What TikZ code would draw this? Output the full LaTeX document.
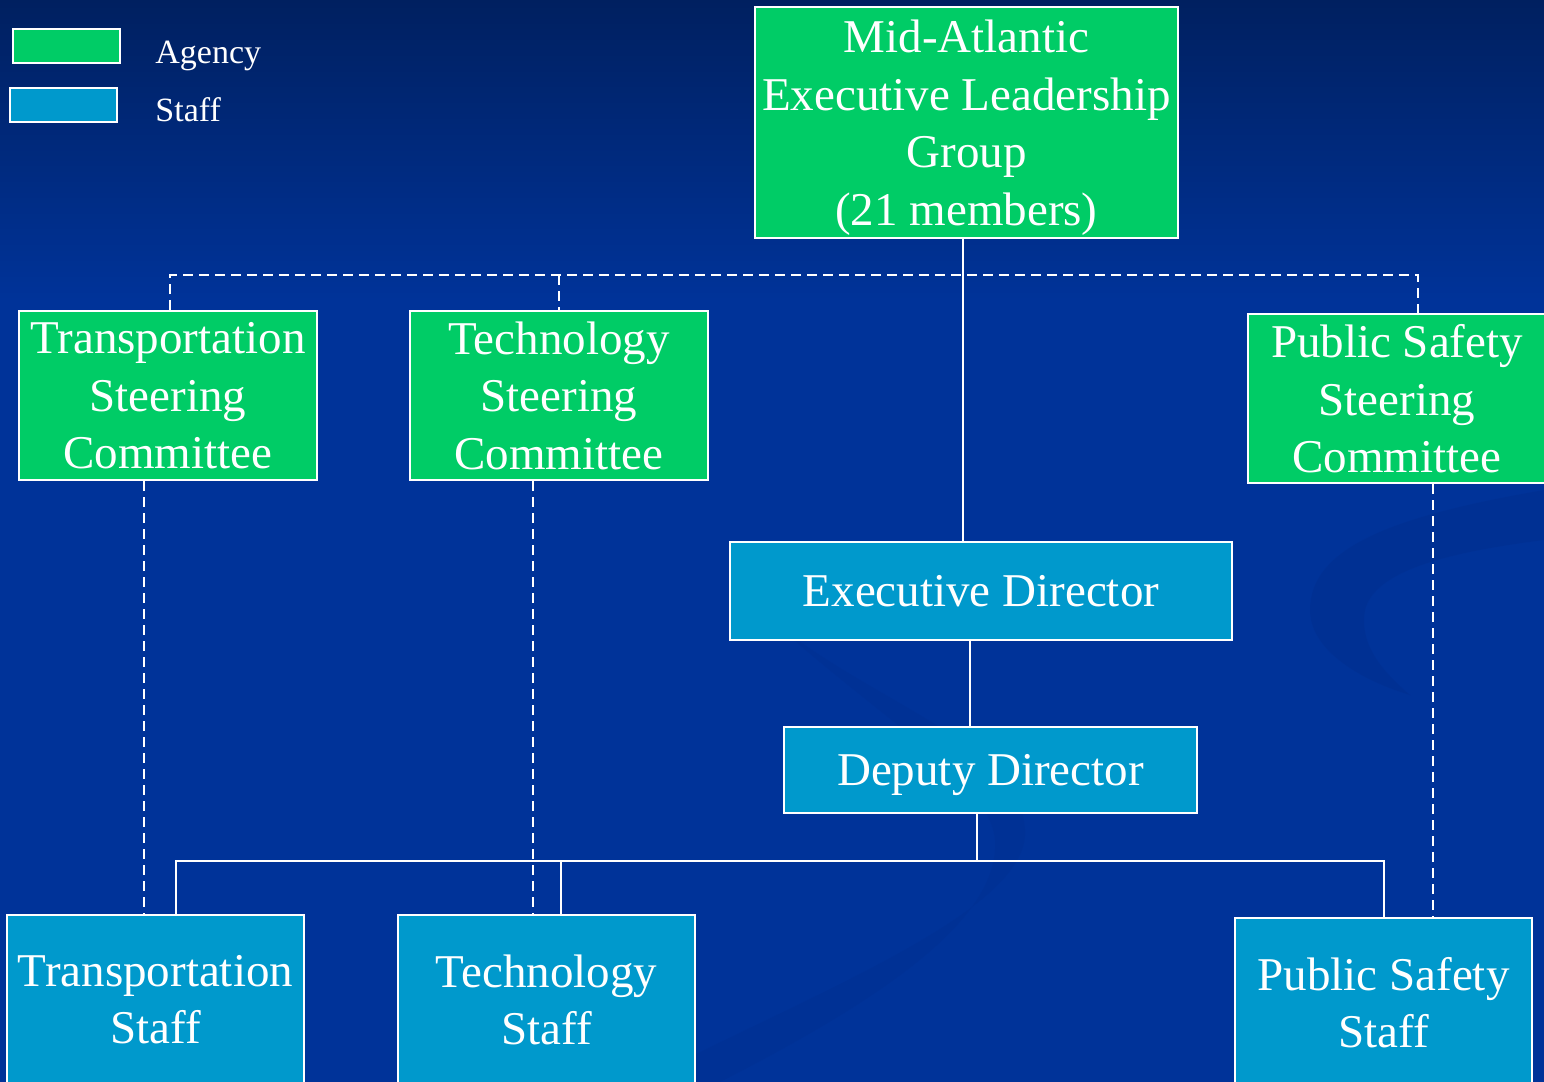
\documentclass[tikz,border=0pt]{standalone}
\usepackage{fontspec}
\setmainfont{Liberation Serif}
\definecolor{bgtop}{HTML}{002060}
\definecolor{bgblue}{HTML}{003399}
\definecolor{swoosh}{HTML}{002D8A}
\definecolor{agency}{HTML}{00CC66}
\definecolor{staffc}{HTML}{0099CC}
\tikzset{
  box/.style={draw=white, line width=1pt, text=white, align=center, inner sep=0pt,
    text depth=0pt, font=\fontsize{23.5}{28.75}\selectfont},
  agencybox/.style={box, fill=agency},
  staffbox/.style={box, fill=staffc},
  link/.style={draw=white, line width=1pt},
  dlink/.style={draw=white, line width=1pt, dash pattern=on 5pt off 3pt},
}
\begin{document}
\begin{tikzpicture}[x=0.5pt,y=-0.5pt]
  \useasboundingbox (0,0) rectangle (1544,1082);
  \clip (0,0) rectangle (1544,1082);
  \fill[bgblue] (0,0) rectangle (1544,1082);% sfondo
  \shade[top color=bgtop, bottom color=bgblue] (0,0) rectangle (1544,300);
  \fill[swoosh, opacity=0.35] (1544,490) .. controls (1400,515) and (1310,545) .. (1310,610)
    .. controls (1310,650) and (1360,680) .. (1410,695)
    .. controls (1375,665) and (1360,640) .. (1365,610)
    .. controls (1375,570) and (1450,552) .. (1544,540) -- cycle;% onda destra
  \fill[swoosh, opacity=0.25] (760,610) .. controls (860,700) and (1020,740) .. (1025,830)
    .. controls (1030,910) and (820,990) .. (640,1082) -- (720,1082)
    .. controls (880,1000) and (1000,920) .. (995,840)
    .. controls (990,780) and (880,720) .. (760,610) -- cycle;% onda centrale
  \coordinate(bus) at (0,275);
  \coordinate(sbus) at (0,861);
  \coordinate(c1) at (970,0);
  % legenda
  \node[agencybox, minimum width=53.5pt, minimum height=17pt] (legag) at (66.5,46) {};
  \node[staffbox, minimum width=53.5pt, minimum height=17pt] (legst) at (63.5,105) {};
  \node[anchor=base west, text=white, inner sep=0pt, font=\fontsize{17}{20}\selectfont] (legagtxt) at (155,63) {Agency};
  \node[anchor=base west, text=white, inner sep=0pt, font=\fontsize{17}{20}\selectfont] (legsttxt) at (155,121) {Staff};
  % riquadri
  \node[agencybox, minimum width=211.5pt, minimum height=115.5pt] (elg) at (966.5,122.5)
    {Mid-Atlantic\\Executive Leadership\\Group\\(21 members)};
  \node[agencybox, minimum width=149pt, minimum height=84.5pt] (tsc) at (168,395.5)
    {Transportation\\Steering\\Committee};
  \node[agencybox, minimum width=149pt, minimum height=84.5pt] (tesc) at (559,395.5)
    {Technology\\Steering\\Committee};
  \node[agencybox, minimum width=149pt, minimum height=84.5pt] (pssc) at (1397,398.5)
    {Public Safety\\Steering\\Committee};
  \node[staffbox, minimum width=251pt, minimum height=49pt] (ed) at (981,591)
    {Executive Director};
  \node[staffbox, minimum width=206.5pt, minimum height=43pt] (dd) at (990.5,770)
    {Deputy Director};
  \node[staffbox, minimum width=148.5pt, minimum height=84.5pt] (ts) at (155.5,999.5)
    {Transportation\\Staff};
  \node[staffbox, minimum width=148.5pt, minimum height=84.5pt] (tes) at (546.5,999.5)
    {Technology\\Staff};
  \node[staffbox, minimum width=148.5pt, minimum height=84.5pt] (pss) at (1383.5,1002.5)
    {Public Safety\\Staff};
  % collegamenti
  \draw[link] ([xshift=-1.75pt]elg.south) -- ([xshift=-1.75pt]elg.south |- ed.north);
  \draw[dlink] ([xshift=1pt]tsc.north) |- ([xshift=10.5pt]pssc.north |- bus) -- ([xshift=10.5pt]pssc.north);
  \draw[dlink] (tesc.north |- bus) -- (tesc.north);
  \draw[link] (ed.south -| c1) -- (dd.north -| c1);
  \draw[link] ([xshift=-7pt]dd.south) -- ([xshift=-7pt]dd.south |- sbus);
  \draw[link] ([xshift=10pt]ts.north) |- (pss.north |- sbus) -- (pss.north);
  \draw[link] ([xshift=7pt]tes.north) -- ([xshift=7pt]tes.north |- sbus);
  \draw[dlink] ([xshift=-12pt]tsc.south) -- ([xshift=-12pt]tsc.south |- ts.north);
  \draw[dlink] ([xshift=-13pt]tesc.south) -- ([xshift=-13pt]tesc.south |- tes.north);
  \draw[dlink] ([xshift=18pt]pssc.south) -- ([xshift=18pt]pssc.south |- pss.north);
\end{tikzpicture}
\end{document}
